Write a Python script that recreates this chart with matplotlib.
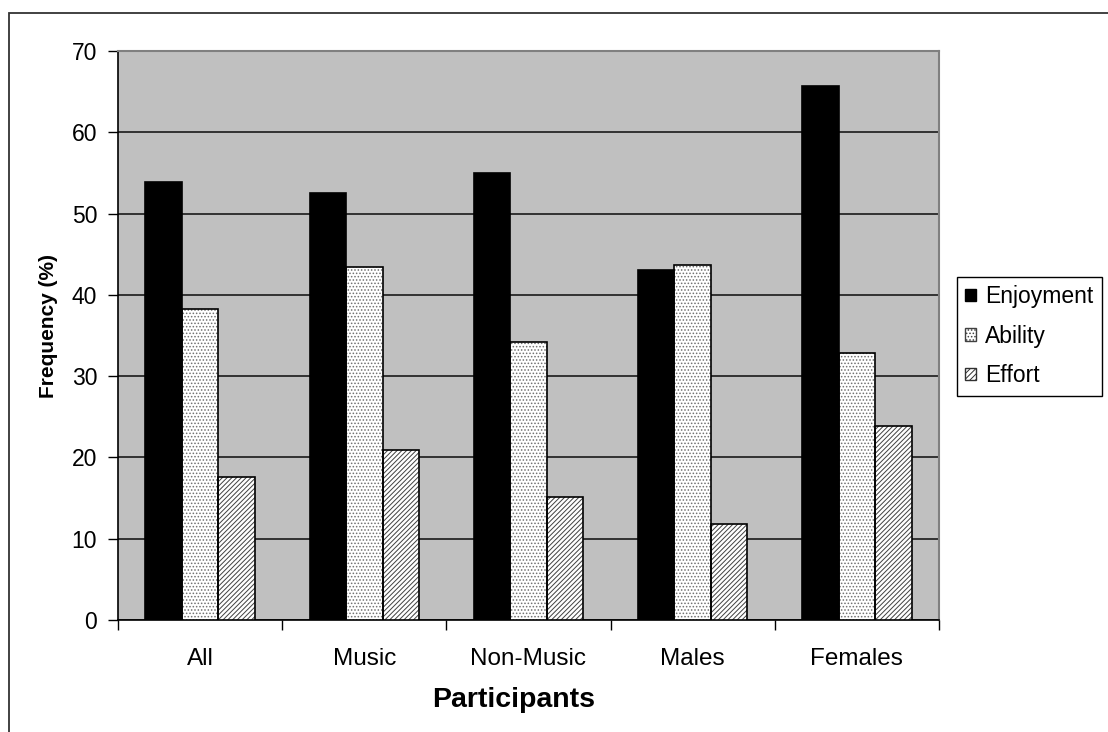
import matplotlib.pyplot as plt
from matplotlib.patches import Patch, Rectangle
import numpy as np

plt.rcParams['font.family'] = ['Liberation Sans', 'DejaVu Sans']
plt.rcParams['hatch.linewidth'] = 0.7

# share of participants (%) naming each reason
groups = ["All", "Music", "Non-Music", "Males", "Females"]
series = ["Enjoyment", "Ability", "Effort"]
enjoyment = [53.9, 52.5, 55.0, 43.0, 65.7]
ability = [38.2, 43.4, 34.2, 43.7, 32.8]
effort = [17.6, 20.9, 15.1, 11.8, 23.9]

fig = plt.figure(figsize=(11.08, 7.32), dpi=100)
ax = fig.add_axes([118 / 1108, 1 - 620 / 732, (939 - 118) / 1108, (620 - 51) / 732])
ax.set_facecolor('#c0c0c0')

x = np.arange(len(groups)) + 0.5
w = 1 / 4.5

# solid black, gray dots, dark diagonal lines
styles = [
    dict(color='black', hatch=None),
    dict(color='white', hatch='.....', hc='#707070'),
    dict(color='white', hatch='///////', hc='#404040'),
]
for i, vals in enumerate([enjoyment, ability, effort]):
    pos = x + (i - 1) * w
    st = styles[i]
    if st['hatch']:
        ax.bar(pos, vals, w, color=st['color'], edgecolor=st['hc'],
               hatch=st['hatch'], linewidth=0, zorder=3)
    ax.bar(pos, vals, w, fill=(st['hatch'] is None), facecolor='black',
           edgecolor='black', linewidth=1.2, zorder=4)

ax.set_xlim(0, 5)
ax.set_ylim(0, 70)
ax.set_yticks(range(0, 71, 10))
ax.yaxis.grid(True, color='#1a1a1a', linewidth=1.2, zorder=1)
ax.set_axisbelow(True)

ax.set_xticks(range(0, 6))
ax.set_xticklabels([])
ax.set_xticks(x, minor=True)
ax.set_xticklabels(groups, minor=True)
ax.tick_params(axis='x', which='minor', length=0, pad=20, labelsize=17.5)
ax.tick_params(axis='x', which='major', length=7, width=1, direction='out')
ax.tick_params(axis='y', length=7, width=1, direction='out', pad=8, labelsize=16.5)

for s in ['top', 'right']:
    ax.spines[s].set_color('#808080')
    ax.spines[s].set_linewidth(1.5)
ax.spines['left'].set_color('black')
ax.spines['bottom'].set_color('black')
ax.spines['left'].set_linewidth(1.2)
ax.spines['bottom'].set_linewidth(1.2)

fig.text(48 / 1108, 1 - 326 / 732, "Frequency (%)", rotation=90,
         ha='center', va='center', fontsize=15, fontweight='bold')
fig.text(514 / 1108, 1 - 700 / 732, "Participants",
         ha='center', va='center', fontsize=20.5, fontweight='bold')

handles = [
    Patch(facecolor='black', edgecolor='black'),
    Patch(facecolor='white', edgecolor='#404040', hatch='.....'),
    Patch(facecolor='white', edgecolor='#303030', hatch='//////'),
]
leg = fig.legend(handles, series, loc='upper left',
                 bbox_to_anchor=(957 / 1108, 1 - 277 / 732),
                 fontsize=16.5, handlelength=0.47, handleheight=0.47,
                 handletextpad=0.4, labelspacing=0.72, borderpad=0.36,
                 borderaxespad=0, fancybox=False, framealpha=1)
leg.get_frame().set_edgecolor('black')
leg.get_frame().set_linewidth(1.0)

# outer chart frame (runs off the right and bottom edges)
fig.add_artist(Rectangle((9 / 1108, -0.1), 1.2, 1 - 12.7 / 732 + 0.1,
                         transform=fig.transFigure, fill=False,
                         edgecolor='#333333', linewidth=1.3, clip_on=False))

fig.savefig('out.png', dpi=100)
